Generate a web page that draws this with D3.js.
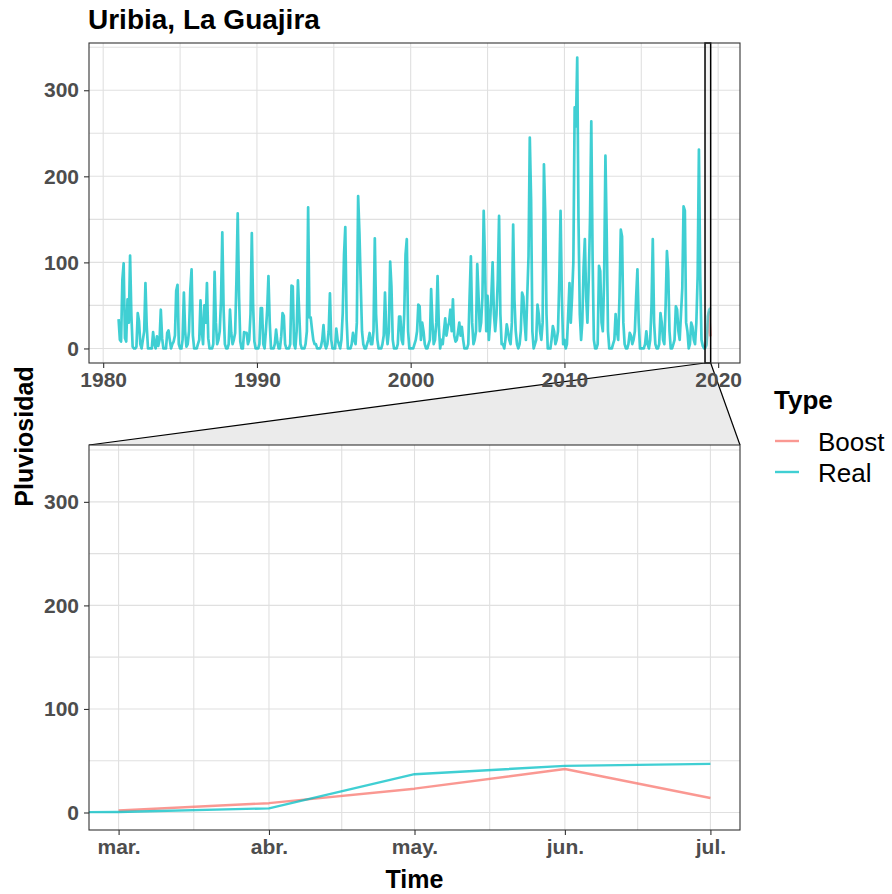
<!DOCTYPE html>
<html>
<head>
<meta charset="utf-8">
<script src="https://cdn.jsdelivr.net/npm/d3@7"></script>
<style>
body { margin: 0; background: #fff; }
text { font-family: "Liberation Sans", Arial, sans-serif; }
</style>
</head>
<body>
<script>
// monthly rainfall, Real series, starting Jan 1981 (one row per year)
var realStart = "1981-01-01";
var realValues = [
  34, 10, 8, 80, 99, 12, 8, 57, 30, 108, 38, 2,
  0, 0, 2, 41, 32, 5, 0, 10, 20, 76, 25, 0,
  0, 0, 0, 19, 5, 0, 14, 3, 10, 45, 12, 0,
  0, 0, 18, 21, 10, 0, 5, 8, 15, 67, 74, 5,
  0, 0, 10, 65, 20, 2, 5, 20, 69, 92, 15, 0,
  0, 0, 5, 10, 56, 20, 5, 50, 30, 76, 12, 0,
  0, 0, 5, 89, 30, 5, 10, 20, 57, 135, 45, 5,
  0, 0, 5, 45, 18, 5, 10, 18, 80, 157, 61, 8,
  0, 0, 19, 18, 18, 5, 10, 40, 134, 51, 8, 0,
  0, 0, 5, 47, 47, 5, 0, 20, 45, 84, 30, 0,
  0, 0, 5, 22, 8, 0, 0, 14, 41, 38, 5, 0,
  0, 0, 5, 73, 72, 5, 0, 20, 79, 41, 5, 0,
  0, 0, 5, 20, 164, 36, 36, 22, 10, 5, 5, 0,
  0, 0, 2, 10, 27, 5, 0, 5, 20, 64, 10, 0,
  0, 0, 23, 10, 5, 0, 10, 41, 109, 141, 34, 0,
  0, 0, 5, 18, 10, 5, 30, 177, 134, 76, 20, 5,
  0, 0, 5, 10, 18, 5, 5, 20, 128, 40, 10, 0,
  0, 0, 5, 15, 65, 20, 5, 20, 101, 72, 10, 0,
  0, 0, 5, 37, 37, 10, 5, 40, 109, 127, 20, 0,
  0, 0, 0, 5, 10, 20, 51, 49, 10, 30, 20, 5,
  0, 0, 5, 10, 69, 30, 5, 10, 30, 84, 25, 0,
  10, 5, 20, 35, 15, 25, 30, 45, 20, 57, 15, 8,
  10, 20, 30, 15, 25, 10, 0, 0, 0, 5, 60, 107,
  30, 5, 10, 20, 98, 60, 20, 30, 60, 160, 100, 20,
  61, 10, 30, 61, 100, 40, 20, 40, 80, 154, 40, 5,
  5, 0, 10, 28, 20, 10, 5, 30, 144, 57, 20, 5,
  0, 5, 20, 65, 60, 30, 10, 60, 107, 245, 173, 20,
  0, 5, 10, 51, 40, 20, 10, 30, 214, 158, 40, 0,
  0, 0, 10, 26, 20, 5, 10, 20, 80, 160, 60, 5,
  10, 0, 5, 40, 76, 30, 60, 100, 280, 258, 338, 150,
  40, 10, 30, 94, 127, 60, 30, 80, 150, 264, 105, 10,
  0, 0, 5, 96, 90, 30, 20, 80, 224, 134, 20, 0,
  0, 0, 5, 10, 40, 20, 10, 60, 138, 130, 30, 5,
  0, 0, 5, 18, 15, 5, 10, 20, 60, 92, 30, 0,
  0, 0, 0, 5, 20, 5, 0, 10, 50, 127, 30, 5,
  0, 0, 5, 41, 30, 10, 5, 50, 113, 90, 20, 0,
  0, 5, 10, 49, 45, 20, 10, 40, 70, 165, 160, 30,
  20, 0, 5, 30, 25, 10, 5, 30, 84, 231, 84, 10,
  3, 0, 0.5, 4, 37, 45, 47
];

// Boost forecast
var boostDates = ["2019-03-01", "2019-04-01", "2019-05-01", "2019-06-01", "2019-07-01"];
var boostValues = [2, 9, 23, 42, 14];

var zoomRange = ["2019-03-01", "2019-07-01"];
var yearTicks = [1980, 1990, 2000, 2010, 2020];
var yearMinor = [1985, 1995, 2005, 2015];
var monthTicks = ["2019-03-01", "2019-04-01", "2019-05-01", "2019-06-01", "2019-07-01"];
var monthLabels = ["mar.", "abr.", "may.", "jun.", "jul."];
var yTicks = [0, 100, 200, 300];
var yMinor = [50, 150, 250, 350];
var types = ["Boost", "Real"];
var colours = ["#F8766D", "#00BFC4"];

var parseDate = d3.utcParse("%Y-%m-%d");
var svgW = 892, svgH = 894;
var left = 89, right = 740;
var top1 = 43, bot1 = 363;
var top2 = 445, bot2 = 830;
var lineAlpha = 0.75;

var t0 = parseDate(realStart);
var real = realValues.map(function(v, i) {
    return {date: d3.utcMonth.offset(t0, i), value: v};
});
var boost = boostDates.map(function(d, i) {
    return {date: parseDate(d), value: boostValues[i]};
});

function expand(a, b) {
    var r = b - a;
    return [a - 0.05 * r, b + 0.05 * r];
}

var xDom1 = expand(+real[0].date, +real[real.length - 1].date);
var xTop = d3.scaleUtc().domain(xDom1.map(function(d) { return new Date(d); })).range([left, right]);
var zDom = expand(+parseDate(zoomRange[0]), +parseDate(zoomRange[1]));
var xBot = d3.scaleUtc().domain(zDom.map(function(d) { return new Date(d); })).range([left, right]);

var ymax = d3.max(real, function(d) { return d.value; });
var yDom = expand(0, ymax);
var yTop = d3.scaleLinear().domain(yDom).range([bot1, top1]);
var yBot = d3.scaleLinear().domain(yDom).range([bot2, top2]);

var svg = d3.select("body").append("svg")
    .attr("width", svgW)
    .attr("height", svgH);

var defs = svg.append("defs");
defs.append("clipPath").attr("id", "clipTop")
    .append("rect").attr("x", left).attr("y", top1).attr("width", right - left).attr("height", bot1 - top1);
defs.append("clipPath").attr("id", "clipBot")
    .append("rect").attr("x", left).attr("y", top2).attr("width", right - left).attr("height", bot2 - top2);

//Title
svg.append("text")
    .attr("x", 88).attr("y", 29)
    .style("font-size", "28px").style("font-weight", "bold")
    .text("Uribia, La Guajira");

// zoom connector (trapezoid between panels)
var zx0 = xTop(new Date(zDom[0])), zx1 = xTop(new Date(zDom[1]));
svg.append("path")
    .attr("d", "M" + zx0 + "," + bot1 + "L" + zx1 + "," + bot1 + "L" + right + "," + top2 + "L" + left + "," + top2 + "Z")
    .attr("fill", "#ebebeb")
    .attr("stroke", "none");
svg.append("line").attr("x1", zx0).attr("y1", bot1).attr("x2", left).attr("y2", top2)
    .attr("stroke", "#000").attr("stroke-width", 1.2);
svg.append("line").attr("x1", zx1).attr("y1", bot1).attr("x2", right).attr("y2", top2)
    .attr("stroke", "#000").attr("stroke-width", 1.2);

function drawPanel(x, y, y0, y1, clip, majorX, minorX) {
    var g = svg.append("g");
    g.append("rect").attr("x", left).attr("y", y0).attr("width", right - left).attr("height", y1 - y0)
        .attr("fill", "#fff");
    var grid = g.append("g").attr("stroke", "#e0e0e0").attr("stroke-width", 1.1);
    minorX.concat(majorX).forEach(function(d) {
        grid.append("line").attr("x1", x(d)).attr("x2", x(d)).attr("y1", y0).attr("y2", y1);
    });
    yMinor.concat(yTicks).forEach(function(d) {
        grid.append("line").attr("x1", left).attr("x2", right).attr("y1", y(d)).attr("y2", y(d));
    });
    return g;
}

var yearDate = function(yr) { return new Date(Date.UTC(yr, 0, 1)); };
var gTop = drawPanel(xTop, yTop, top1, bot1, "clipTop", yearTicks.map(yearDate), yearMinor.map(yearDate));

var mDates = monthTicks.map(parseDate);
var mMinor = [];
for (var i = 0; i < mDates.length - 1; i++) {
    mMinor.push(new Date((+mDates[i] + +mDates[i + 1]) / 2));
}
var gBot = drawPanel(xBot, yBot, top2, bot2, "clipBot", mDates, mMinor);

function drawLines(g, x, y, clip, w) {
    var line = d3.line()
        .x(function(d) { return x(d.date); })
        .y(function(d) { return y(d.value); });
    var lg = g.append("g").attr("clip-path", "url(#" + clip + ")");
    [boost, real].forEach(function(s, i) {
        lg.append("path")
            .datum(s)
            .attr("d", line)
            .attr("fill", "none")
            .attr("stroke", colours[i])
            .attr("stroke-opacity", lineAlpha)
            .attr("stroke-width", w)
            .attr("stroke-linejoin", "round");
    });
}

drawLines(gTop, xTop, yTop, "clipTop", 2.7);
drawLines(gBot, xBot, yBot, "clipBot", 2.4);

// zoom area in top panel
gTop.append("rect")
    .attr("x", zx0).attr("y", top1).attr("width", zx1 - zx0).attr("height", bot1 - top1)
    .attr("fill", "#d9d9d9").attr("fill-opacity", 0.3)
    .attr("stroke", "#000").attr("stroke-width", 1.5);

// panel borders
[[top1, bot1], [top2, bot2]].forEach(function(p) {
    svg.append("rect").attr("x", left).attr("y", p[0]).attr("width", right - left).attr("height", p[1] - p[0])
        .attr("fill", "none").attr("stroke", "#333").attr("stroke-width", 1.1);
});

//Define axes
var fmtYear = d3.utcFormat("%Y");
var xAxisTop = d3.axisBottom(xTop).tickValues(yearTicks.map(yearDate)).tickFormat(fmtYear).tickSize(5).tickPadding(4);
var xAxisBot = d3.axisBottom(xBot).tickValues(mDates).tickFormat(function(d, i) { return monthLabels[i]; }).tickSize(5).tickPadding(4);
var yAxisTop = d3.axisLeft(yTop).tickValues(yTicks).tickSize(5).tickPadding(5);
var yAxisBot = d3.axisLeft(yBot).tickValues(yTicks).tickSize(5).tickPadding(5);

function styleAxis(g) {
    g.select(".domain").remove();
    g.selectAll(".tick line").attr("stroke", "#333").attr("stroke-width", 1.1);
    g.selectAll(".tick text")
        .attr("fill", "#4d4d4d")
        .style("font-size", "21px")
        .style("font-weight", "bold")
        .style("font-family", "'Liberation Sans', Arial, sans-serif");
}

svg.append("g").attr("transform", "translate(0," + bot1 + ")").call(xAxisTop).call(styleAxis);
svg.append("g").attr("transform", "translate(0," + bot2 + ")").call(xAxisBot).call(styleAxis);
svg.append("g").attr("transform", "translate(" + left + ",0)").call(yAxisTop).call(styleAxis);
svg.append("g").attr("transform", "translate(" + left + ",0)").call(yAxisBot).call(styleAxis);

//Axis titles
svg.append("text")
    .attr("x", (left + right) / 2).attr("y", 888)
    .attr("text-anchor", "middle")
    .style("font-size", "25px").style("font-weight", "bold")
    .text("Time");
svg.append("text")
    .attr("transform", "translate(33," + ((top1 + bot2) / 2) + ") rotate(-90)")
    .attr("text-anchor", "middle")
    .style("font-size", "25px").style("font-weight", "bold")
    .text("Pluviosidad");

//Legend
var lg = svg.append("g").attr("transform", "translate(774,0)");
lg.append("text").attr("x", 0).attr("y", 409)
    .style("font-size", "26px").style("font-weight", "bold")
    .text("Type");
types.forEach(function(t, i) {
    var yy = 441 + i * 31;
    lg.append("line").attr("x1", 1).attr("x2", 25).attr("y1", yy).attr("y2", yy)
        .attr("stroke", colours[i]).attr("stroke-opacity", lineAlpha).attr("stroke-width", 2.4);
    lg.append("text").attr("x", 44).attr("y", yy + 10)
        .style("font-size", "26px")
        .text(t);
});
</script>
</body>
</html>
